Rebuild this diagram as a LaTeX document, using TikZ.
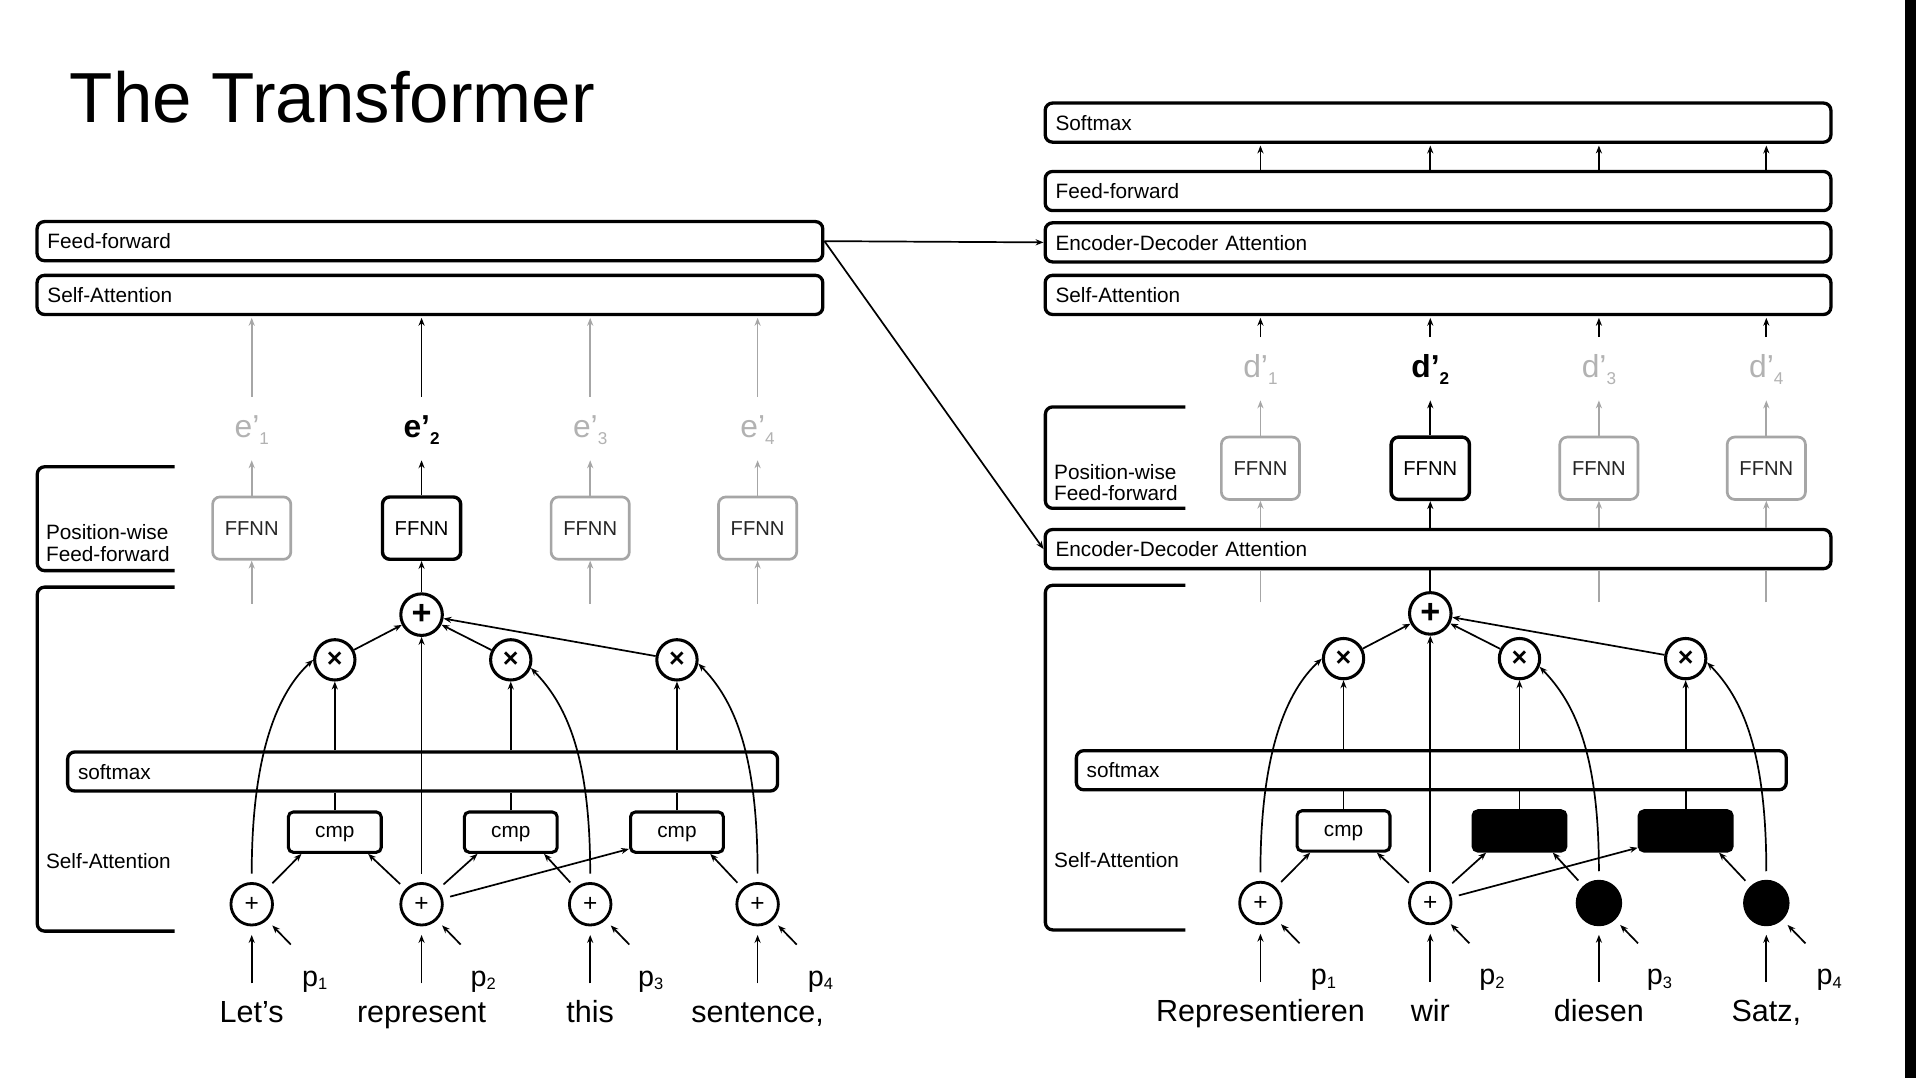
\documentclass[tikz,border=0pt]{standalone}
\usepackage{fontspec}
\setmainfont{Liberation Sans}
\usetikzlibrary{arrows.meta}
\definecolor{lg}{HTML}{A6A6A6}
\definecolor{lgt}{HTML}{B2B2B2}
\newcommand\fsz[1]{\fontsize{#1}{#1}\selectfont}
\newcommand\sbs[1]{\raisebox{-5.5pt}{\fsz{14}#1}}
\newcommand\sbp[1]{\raisebox{-3pt}{\fsz{13.5}#1}}
\tikzset{
 bigbox/.style={draw, line width=2.7pt, rounded corners=6pt, fill=white, minimum height=32pt,
   inner xsep=8.5pt, inner ysep=0pt, align=left, font=\fsz{17}, anchor=north west,
   text height=12.5pt, text depth=0pt},
 ffnn/.style={draw=lg, line width=2.2pt, rounded corners=6pt, fill=white, minimum width=64pt,
   minimum height=51pt, inner sep=0pt, font=\fsz{16.5}, text=black!85},
 ffnnk/.style={ffnn, draw=black, line width=2.8pt, text=black},
 elab/.style={anchor=base, inner sep=0pt, text height=33pt, text depth=18.5pt, font=\fsz{26}, text=lgt},
 elabk/.style={elab, font=\fsz{26}\bfseries, text=black},
 plusc/.style={circle, draw, line width=2.3pt, minimum size=34pt, inner sep=0pt, fill=white, font=\fsz{20}},
 blkc/.style={circle, draw, fill=black, line width=1pt, minimum size=37pt, inner sep=0pt},
 multc/.style={circle, draw, line width=2.5pt, minimum size=33pt, inner sep=0pt, fill=white, font=\fsz{22}\bfseries},
 sumc/.style={circle, draw, line width=2.5pt, minimum size=34pt, inner sep=0pt, fill=white, font=\fsz{28}\bfseries},
 cmpb/.style={draw, line width=2.5pt, rounded corners=4pt, fill=white, minimum width=76pt,
   minimum height=33pt, inner sep=0pt, font=\fsz{17}, text height=9pt, text depth=0pt},
 cmpk/.style={cmpb, fill=black},
 word/.style={anchor=base, inner sep=0pt, text height=17.5pt, text depth=5pt, font=\fsz{25}},
 plab/.style={anchor=base west, inner sep=0pt, font=\fsz{23.5}},
 lbl/.style={anchor=west, inner sep=0pt, font=\fontsize{17}{17.7}\selectfont, align=left},
 arr/.style={line width=1.4pt, -{Stealth[length=6.5pt,width=5pt]}},
 garr/.style={arr, draw=lg},
 ln/.style={line width=1.4pt},
 gln/.style={ln, draw=lg},
 brk/.style={line width=2.7pt, rounded corners=6pt}
}
\newcommand\attblock[9]{%
 \node[plusc] (#1c1) at (206,740) {+};
 \node[plusc] (#1c2) at (345,740) {+};
 \node[#2] (#1c3) at (483,740) {#3};
 \node[#2] (#1c4) at (620,740) {#3};
 \node[cmpb] (#1k1) at (274,681) {cmp};
 \node[#4] (#1k2) at (418,681) {#5};
 \node[#4] (#1k3) at (554,681) {#5};
 \node[bigbox,text width=564pt] (#1sm) at (54,614) {softmax};
 \node[multc] (#1m1) at (274,540) {\raisebox{-1pt}{×}};
 \node[multc] (#1m2) at (418,540) {\raisebox{-1pt}{×}};
 \node[multc] (#1m3) at (554,540) {\raisebox{-1pt}{×}};
 \node[sumc] (#1s) at (345,503) {\raisebox{-1pt}{+}};
 \node[word] (#1w1) at (206,837) {#6};
 \node[word] (#1w2) at (345,837) {#7};
 \node[word] (#1w3) at (483,837) {#8};
 \node[word] (#1w4) at (620,837) {#9};
 \node[plab] (#1p1) at (247,807) {p\sbp{1}};
 \node[plab] (#1p2) at (385,807) {p\sbp{2}};
 \node[plab] (#1p3) at (522,807) {p\sbp{3}};
 \node[plab] (#1p4) at (661,807) {p\sbp{4}};
 \coordinate (#1q1) at (238,773);
 \coordinate (#1q2) at (377,773);
 \coordinate (#1q3) at (515,773);
 \coordinate (#1q4) at (652,773);
 \foreach \i in {1,2,3,4}{%
   \draw[arr, shorten <=14.5pt, shorten >=7pt] (#1w\i.north) -- (#1c\i);
   \draw[arr, shorten >=6pt] (#1q\i) -- (#1c\i);
 }
 \draw[arr, shorten <=6pt] (#1c1) -- ([xshift=12pt]#1k1.south west);
 \draw[arr, shorten <=6pt] (#1c2) -- ([xshift=-12pt]#1k1.south east);
 \draw[arr, shorten <=6pt] (#1c2) -- ([xshift=12pt]#1k2.south west);
 \draw[arr, shorten <=6pt] (#1c2) -- ([yshift=4pt]#1k3.south west);
 \draw[arr, shorten <=6pt] (#1c3) -- ([xshift=-12pt]#1k2.south east);
 \draw[arr, shorten <=6pt] (#1c4) -- ([xshift=-12pt]#1k3.south east);
 \foreach \j in {1,2,3}{%
   \draw[ln] (#1k\j.north) -- (#1k\j.north |- #1sm.south);
   \draw[arr] (#1m\j.south |- #1sm.north) -- (#1m\j.south);
   \draw[arr] (#1m\j) -- (#1s);
 }
 \draw[arr] ([yshift=7pt]#1c1.north) .. controls (206,615) and (228,566) .. (#1m1.west);
 \draw[arr] ([yshift=7pt]#1c2.north) -- (#1s.south);
 \draw[arr] ([yshift=7pt]#1c3.north) .. controls (483,615) and (462,575) .. (#1m2.-22);
 \draw[arr] ([yshift=7pt]#1c4.north) .. controls (620,615) and (600,572) .. (#1m3.-10);
}
\begin{document}
\begin{tikzpicture}[x=1pt,y=-1pt]
\fill[white] (0,0) rectangle (1568,882);
\useasboundingbox (0,0) rectangle (1568,882);
\fill[black] (1559,0) rectangle (1568,882);

\node[anchor=base west, inner sep=0pt, font=\fsz{58}] (title) at (57,100) {The Transformer};

% ---------------- Encoder ----------------
\node[bigbox,text width=626pt] (eff) at (29,180) {Feed-forward};
\node[bigbox,text width=626pt] (esa) at (29,224) {Self-Attention};
\node[ffnn]  (ef1) at (206,432.2) {FFNN};
\node[ffnnk] (ef2) at (345,432.2) {FFNN};
\node[ffnn]  (ef3) at (483,432.2) {FFNN};
\node[ffnn]  (ef4) at (620,432.2) {FFNN};
\node[elab]  (e1) at (206,358) {e’\sbs{1}};
\node[elabk] (e2) at (345,358) {e’\sbs{2}};
\node[elab]  (e3) at (483,358) {e’\sbs{3}};
\node[elab]  (e4) at (620,358) {e’\sbs{4}};
\foreach \i in {1,3,4}{%
  \draw[garr] (ef\i.north) -- (e\i.south);
  \draw[garr, shorten >=1.4pt] (e\i.north) -- (e\i.north |- esa.south);
}
\draw[arr] (ef2.north) -- (e2.south);
\draw[arr, shorten >=1.4pt] (e2.north) -- (e2.north |- esa.south);

\draw[brk] (143,382) -- (30.5,382) -- (30.5,467) -- (143,467);
\draw[brk] (143,480.5) -- (30.5,480.5) -- (30.5,762) -- (143,762);
\node[lbl] (apw) at (37.5,444.5) {Position-wise\\Feed-forward};
\node[lbl] (asa) at (37.5,705) {Self-Attention};

\attblock{a}{plusc}{+}{cmpb}{cmp}{Let’s}{represent}{this}{sentence,}

\coordinate (eg1) at (206,494);
\coordinate (eg3) at (483,494);
\coordinate (eg4) at (620,494);
\foreach \i in {1,3,4}{\draw[garr] (eg\i) -- (ef\i.south);}
\draw[arr] (as) -- (ef2.south);

% ---------------- Decoder ----------------
\node[bigbox,text width=626pt] (dsm) at (854,83) {Softmax};
\node[bigbox,text width=626pt] (dff) at (854,139) {Feed-forward};
\node[bigbox,text width=626pt] (dea) at (854,181) {Encoder-Decoder Attention};
\node[bigbox,text width=626pt] (dsa) at (854,224) {Self-Attention};
\node[bigbox,text width=626pt] (deb) at (854,432) {Encoder-Decoder Attention};
\node[ffnn]  (df1) at (1031.5,383.2) {FFNN};
\node[ffnnk] (df2) at (1170.5,383.2) {FFNN};
\node[ffnn]  (df3) at (1308.5,383.2) {FFNN};
\node[ffnn]  (df4) at (1445.5,383.2) {FFNN};
\node[elab]  (d1) at (1031.5,309) {d’\sbs{1}};
\node[elabk] (d2) at (1170.5,309) {d’\sbs{2}};
\node[elab]  (d3) at (1308.5,309) {d’\sbs{3}};
\node[elab]  (d4) at (1445.5,309) {d’\sbs{4}};
\foreach \i in {1,2,3,4}{%
  \draw[arr, shorten >=1.4pt] (df\i.north |- dff.north) -- (df\i.north |- dsm.south);
  \draw[arr, shorten >=1.4pt] (d\i.north) -- (d\i.north |- dsa.south);
}
\foreach \i in {1,3,4}{%
  \draw[garr] (df\i.north) -- (d\i.south);
  \draw[garr] (df\i.south |- deb.north) -- (df\i.south);
}
\draw[arr] (df2.north) -- (d2.south);
\draw[arr] (df2.south |- deb.north) -- (df2.south);

\draw[brk] (970,333) -- (855.5,333) -- (855.5,416) -- (970,416);
\draw[brk] (970,479) -- (855.5,479) -- (855.5,761) -- (970,761);
\node[lbl] (bpw) at (862.5,395) {Position-wise\\Feed-forward};
\node[lbl] (bsa) at (862.5,704) {Self-Attention};

\begin{scope}[xshift=825.5pt, yshift=1pt]
\attblock{b}{blkc}{}{cmpk}{}{Representieren}{wir}{diesen}{Satz,}
\end{scope}

\coordinate (dg1) at (1031.5,493);
\coordinate (dg3) at (1308.5,493);
\coordinate (dg4) at (1445.5,493);
\foreach \i in {1,3,4}{\draw[gln] (dg\i) -- (dg\i |- deb.south);}
\draw[ln] (bs) -- (bs.north |- deb.south);

% ---------------- Encoder -> Decoder ----------------
\draw[arr] (eff.east) -- (dea.west);
\draw[arr] (eff.east) -- (deb.west);
\end{tikzpicture}
\end{document}
